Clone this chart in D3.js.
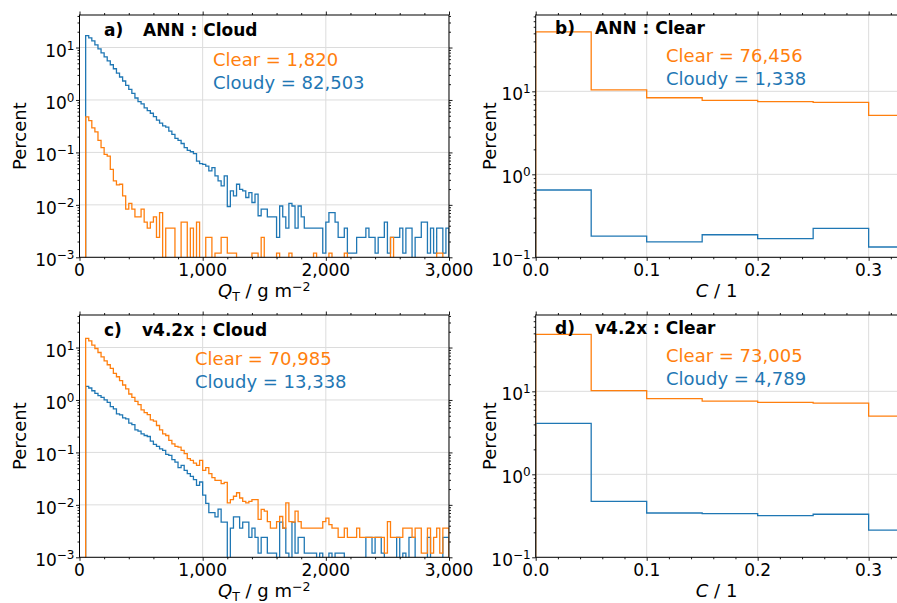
<!DOCTYPE html>
<html><head><meta charset="utf-8">
<script src="https://cdn.jsdelivr.net/npm/d3@7/dist/d3.min.js"></script>
<style>
body{margin:0;background:#fff;}
svg text{font-family:"DejaVu Sans",sans-serif;}
</style></head>
<body><svg id="chart" width="897" height="603" xmlns="http://www.w3.org/2000/svg"></svg>
<script>
// ---------------- data ----------------
const qtBinStart = 50, qtBinWidth = 25, qtBinCount = 118;
// panel a) ANN : Cloud  (percent per 25 g m-2 bin, first bin 50-75)
const annCloudCloudy = [16.9,15.3,13.4,11.2,9.44,7.93,6.65,5.58,4.69,3.94,
 3.26,2.74,2.30,1.90,1.59,1.34,1.09,0.93,0.84,0.705,
 0.627,0.558,0.483,0.411,0.361,0.321,0.303,0.254,0.22,0.185,
 0.169,0.148,0.123,0.109,0.103,0.0944,0.0685,0.061,0.0592,0.055,
 0.0443,0.0512,0.0356,0.0286,0.023,0.0356,0.0093,0.0185,0.0148,0.0247,
 0.0198,0.0185,0.0138,0.0171,0.0111,0.016,0.0062,0.0083,
 0.0083,0.0059,0.0059,0.0059,0.0024,0.0095,0.0059,0.0036,0.0107,0.0095,
 0.0036,0.0095,0.0059,0.0036,0.0036,0.0036,0.0036,0.0036,0.0036,0.0012,
 0.0047,0.0071,0.0071,0.0047,0.0024,0.0024,0.0036,0.0012,0.0012,0.0012,
 0.0024,0.0024,0.0024,0.0036,0.0024,0.0024,0.0012,0.0024,0.0024,0.0047,
 0.0012,0.0024,0.0024,0.0024,0.0036,0.0012,0.0036,0.0036,0,0.0024,
 0.0024,0.0047,0.0047,0.0012,0.0036,0.0012,0.0036,0.0036,0.0012,0.0036];
const annCloudClear = [0.475,0.405,0.294,0.247,0.169,0.123,0.0917,0.0851,0.0475,0.0286,
 0.024,0.0247,0.0148,0.0083,0.0107,0.0083,0.0059,0.0059,0.0083,0.0047,
 0.0036,0.0047,0.0059,0.0024,0.0071,
 0,0.0036,0.0036,0.0036,0,0,0.0047,0.0047,0,0.0036,
 0,0.0047,0,0,0.0024,0.0024,0,0.0012,0.0012,0.0024,
 0.0024,0.0012,0.0012,0.0012,0,0,0,0,0,0.0012,
 0.0012,0,0.0024,
 0,0,0,0,0.0012,0,0,0,0.0012,0,
 0,0,0,0,0,0,0.0012,0,0,0,
 0,0.0012,0,0,0,0,0.0012,0,0,0,
 0,0,0,0,0,0,0,0,0,0,
 0,0.0024,0,0,0,0,0,0,0,0,
 0,0,0,0,0,0,0.0012,0.0012,0,0];
// panel c) v4.2x : Cloud
const v42CloudClear = [15.0,13.4,11.1,9.57,8.04,6.65,5.58,4.69,3.99,3.21,
 2.77,2.33,1.93,1.62,1.30,1.12,0.944,0.815,0.646,0.574,
 0.527,0.417,0.394,0.326,0.269,0.226,0.21,0.169,0.146,0.13,
 0.126,0.109,0.0944,0.0759,0.0705,0.0627,0.0566,0.0705,0.0455,0.0512,
 0.0394,0.033,0.0294,0.0294,0.0254,
 0.0269,0.0109,0.0126,0.0146,0.0170,0.0135,0.0117,0.0109,0.0117,0.0126,
 0.0126,0.0053,0.0082,0.0076,0.0048,0.0036,0.0036,0.0048,0.006,0.0036,
 0.0109,0.0048,0.0047,0.0076,0.0048,0.0036,0.0036,
 0.0036,0.0036,0.0036,0.0036,0.0036,0.0048,0.0056,0.0042,0.0036,0.0036,
 0.0024,0.0024,0.0036,0.0024,0.0024,0.0024,0.0036,
 0.0024,0.0024,0.0024,0.0024,0.0024,0.0024,0.0024,
 0.0024,0.0012,0.0048,
 0.0024,0.0024,0.0024,0.0024,
 0.0036,0.0036,0.0036,
 0.0024,0.0036,0.0036,0.0012,0.0012,0.0036,0.0012,0.0024,0.0036,0.0012,0.0036,0.0036];
const v42CloudCloudy = [1.82,1.69,1.50,1.34,1.21,1.12,1.0,0.90,0.747,0.675,
 0.542,0.519,0.455,0.436,0.361,0.34,0.269,0.254,0.226,0.21,
 0.201,0.164,0.142,0.13,0.117,0.109,0.0917,0.0877,0.0726,0.0655,
 0.0512,0.0566,0.0455,0.0394,0.035,0.0303,0.0236,0.0273,0.0153,0.0107,
 0.0071,0.0071,0.0059,0.0083,0.0047,0.0047,0,0.0036,0.0059,0.0059,
 0.0036,0.0047,0.0047,0.0024,0.0036,0.0024,0.0012,0.0024,0.0024,0.0012,
 0.0012,0.0012,0,0.0047,0.0036,0.0012,0,0.0047,0.0012,0.0024,
 0.0024,0.0012,0.0012,0.0012,0.0012,0,0.0012,0,0,0.0012,
 0,0.0012,0.0012,0.0012,0,0,0,0,0,0,
 0,0.0024,0.0024,0.0012,0.0024,0.0024,0.0012,0,0,0,
 0,0.0024,0,0.0012,0,0.0024,0.0024,0,0,0,
 0,0.0024,0,0,0,0,0.0024,0.0024];

// cloud-fraction histograms (percent per 0.05 bin)
const cfBinEdges = [0,0.05,0.1,0.15,0.2,0.25,0.3,0.35];
const annClearClear  = [52.2,10.4,8.37,7.8,7.5,7.36,5.14];
const annClearCloudy = [0.647,0.18,0.153,0.187,0.168,0.223,0.133];
const v42ClearClear  = [48.6,10.2,8.17,7.64,7.36,7.23,5.04];
const v42ClearCloudy = [4.11,0.473,0.342,0.336,0.318,0.33,0.213];

const qtTicks = [0,1000,2000,3000];
const qtTickLabels = ["0","1,000","2,000","3,000"];
const cfTicks = [0,0.1,0.2,0.3];
const cfTickLabels = ["0.0","0.1","0.2","0.3"];
const panelLetters = ["a)","b)","c)","d)"];
const panelNames = ["ANN : Cloud","ANN : Clear","v4.2x : Cloud","v4.2x : Clear"];
const clearLabels = ["Clear = 1,820","Clear = 76,456","Clear = 70,985","Clear = 73,005"];
const cloudyLabels = ["Cloudy = 82,503","Cloudy = 1,338","Cloudy = 13,338","Cloudy = 4,789"];

const C_CLEAR = "#ff7f0e", C_CLOUDY = "#1f77b4";

// ---------------- drawing ----------------
const svg = d3.select("#chart");
const defs = svg.append("defs");
const qtEdges = d3.range(qtBinCount + 1).map(i => qtBinStart + i * qtBinWidth);

function supLabel(sel, base, exp, supSize, dy){
  sel.append("tspan").text(base);
  sel.append("tspan").attr("font-size", supSize).attr("dy", -dy).text(exp);
}

function panel(p, idx){
  const x = d3.scaleLinear().domain(p.xdom).range([p.left, p.right]);
  const y = d3.scaleLog().domain(p.ydom).range([p.bottom, p.top]);
  const g = svg.append("g");
  const cid = "clip" + idx;
  defs.append("clipPath").attr("id", cid).append("rect")
    .attr("x", p.left).attr("y", p.top).attr("width", p.right - p.left).attr("height", p.bottom - p.top);

  const lo = Math.round(Math.log10(p.ydom[0]));
  const hi = Math.floor(Math.log10(p.ydom[1]));
  const yMajor = d3.range(lo, hi + 1).map(e => Math.pow(10, e));
  const yMinor = [];
  for (let e = lo; e <= hi; e++) for (let m = 2; m <= 9; m++) {
    const v = m * Math.pow(10, e); if (v < p.ydom[1]) yMinor.push(v);
  }

  // grid
  const grid = g.append("g").attr("clip-path", `url(#${cid})`);
  p.xTicks.forEach(v => grid.append("line").attr("x1", x(v)).attr("x2", x(v)).attr("y1", p.top).attr("y2", p.bottom));
  yMajor.forEach(v => grid.append("line").attr("y1", y(v)).attr("y2", y(v)).attr("x1", p.left).attr("x2", p.right));
  grid.selectAll("line").attr("stroke", "#dcdcdc").attr("stroke-width", 1);

  // series
  const plot = g.append("g").attr("clip-path", `url(#${cid})`);
  const below = p.bottom + 20;
  p.series.forEach(s => {
    const yv = v => v > 0 ? y(v) : below;
    const pts = [[x(s.edges[0]), below]];
    s.values.forEach((v, i) => { pts.push([x(s.edges[i]), yv(v)]); pts.push([x(s.edges[i + 1]), yv(v)]); });
    pts.push([x(s.edges[s.values.length]), below]);
    plot.append("path").attr("d", d3.line()(pts)).attr("fill", "none")
      .attr("stroke", s.color).attr("stroke-width", 1.3);
  });

  // ticks
  function ax(fn, scale, vals, size, tr){
    const a = fn(scale).tickValues(vals).tickSize(size).tickSizeOuter(0).tickFormat("");
    const gg = g.append("g").attr("transform", tr).call(a);
    gg.select(".domain").remove();
    gg.selectAll("line").attr("stroke", "#000").attr("stroke-width", 0.9);
  }
  const xMinor = d3.range(p.xdom[0], p.xdom[1] + 1e-9, p.xMinorStep).filter(v => !p.xTicks.some(t => Math.abs(t - v) < 1e-9));
  ax(d3.axisBottom, x, p.xTicks, 3.5, `translate(0,${p.bottom})`);
  ax(d3.axisBottom, x, xMinor, 2, `translate(0,${p.bottom})`);
  ax(d3.axisTop, x, p.xTicks, 3.5, `translate(0,${p.top})`);
  ax(d3.axisTop, x, xMinor, 2, `translate(0,${p.top})`);
  ax(d3.axisLeft, y, yMajor, 3.5, `translate(${p.left},0)`);
  ax(d3.axisLeft, y, yMinor, 2, `translate(${p.left},0)`);
  ax(d3.axisRight, y, yMajor, 3.5, `translate(${p.right},0)`);
  ax(d3.axisRight, y, yMinor, 2, `translate(${p.right},0)`);

  // spines
  g.append("rect").attr("x", p.left).attr("y", p.top).attr("width", p.right - p.left).attr("height", p.bottom - p.top)
    .attr("fill", "none").attr("stroke", "#000").attr("stroke-width", 1);

  // x tick labels
  p.xTicks.forEach((v, i) => g.append("text").attr("x", x(v)).attr("y", p.bottom + 19)
    .attr("text-anchor", "middle").attr("font-size", 17).text(p.xTickLabels[i]));
  // y tick labels
  yMajor.forEach(v => {
    const e = Math.round(Math.log10(v));
    const t = g.append("text").attr("x", p.left - 5).attr("y", y(v) + 9).attr("text-anchor", "end").attr("font-size", 17);
    supLabel(t, "10", (e < 0 ? "\u2212" : "") + Math.abs(e), 12, 7);
  });
  // y label
  g.append("text").attr("transform", `translate(${p.left - p.ylabOff},${(p.top + p.bottom) / 2}) rotate(-90)`)
    .attr("text-anchor", "middle").attr("font-size", 18).text("Percent");
  // x label
  const xl = g.append("text").attr("x", (p.left + p.right) / 2).attr("y", p.bottom + 40)
    .attr("text-anchor", "middle").attr("font-size", 18);
  if (p.kind === "qt") {
    xl.append("tspan").attr("font-style", "italic").text("Q");
    xl.append("tspan").attr("font-size", 12.5).attr("dy", 4).text("T");
    xl.append("tspan").attr("dy", -4).text(" / g m");
    xl.append("tspan").attr("font-size", 12.5).attr("dy", -6).text("\u22122");
  } else {
    xl.append("tspan").attr("font-style", "italic").text("C");
    xl.append("tspan").text(" / 1");
  }
  // titles
  g.append("text").attr("x", p.titleX).attr("y", p.titleY).attr("font-size", 17).attr("font-weight", "bold").text(panelLetters[idx]);
  g.append("text").attr("x", p.nameX).attr("y", p.titleY).attr("font-size", 17).attr("font-weight", "bold").text(panelNames[idx]);
  g.append("text").attr("x", p.annX).attr("y", p.annY).attr("font-size", 18).attr("fill", C_CLEAR).text(clearLabels[idx]);
  g.append("text").attr("x", p.annX).attr("y", p.annY + 23).attr("font-size", 18).attr("fill", C_CLOUDY).text(cloudyLabels[idx]);
}

const LOGTOP_QT = Math.pow(10, 1.62), LOGTOP_CF = Math.pow(10, 1.92);
const panels = [
  {kind:"qt", left:79.5, right:449, top:15, bottom:257.3, xdom:[0,3000], ydom:[1e-3, LOGTOP_QT],
   xTicks:qtTicks, xTickLabels:qtTickLabels, xMinorStep:200, ylabOff:54,
   titleX:104, nameX:143, titleY:36, annX:213, annY:66,
   series:[{edges:qtEdges, values:annCloudCloudy, color:C_CLOUDY},{edges:qtEdges, values:annCloudClear, color:C_CLEAR}]},
  {kind:"cf", left:535.7, right:897.5, top:15, bottom:257.3, xdom:[0,0.326], ydom:[0.1, LOGTOP_CF],
   xTicks:cfTicks, xTickLabels:cfTickLabels, xMinorStep:0.02, ylabOff:40,
   titleX:555, nameX:595, titleY:34, annX:666, annY:61.5,
   series:[{edges:cfBinEdges, values:annClearCloudy, color:C_CLOUDY},{edges:cfBinEdges, values:annClearClear, color:C_CLEAR}]},
  {kind:"qt", left:79.5, right:449, top:315, bottom:557.3, xdom:[0,3000], ydom:[1e-3, LOGTOP_QT],
   xTicks:qtTicks, xTickLabels:qtTickLabels, xMinorStep:200, ylabOff:54,
   titleX:104, nameX:142, titleY:336, annX:195, annY:365,
   series:[{edges:qtEdges, values:v42CloudCloudy, color:C_CLOUDY},{edges:qtEdges, values:v42CloudClear, color:C_CLEAR}]},
  {kind:"cf", left:535.7, right:897.5, top:315, bottom:557.3, xdom:[0,0.326], ydom:[0.1, LOGTOP_CF],
   xTicks:cfTicks, xTickLabels:cfTickLabels, xMinorStep:0.02, ylabOff:40,
   titleX:555, nameX:595, titleY:334, annX:666, annY:361.5,
   series:[{edges:cfBinEdges, values:v42ClearCloudy, color:C_CLOUDY},{edges:cfBinEdges, values:v42ClearClear, color:C_CLEAR}]}
];
panels.forEach(panel);
</script>
</body></html>
